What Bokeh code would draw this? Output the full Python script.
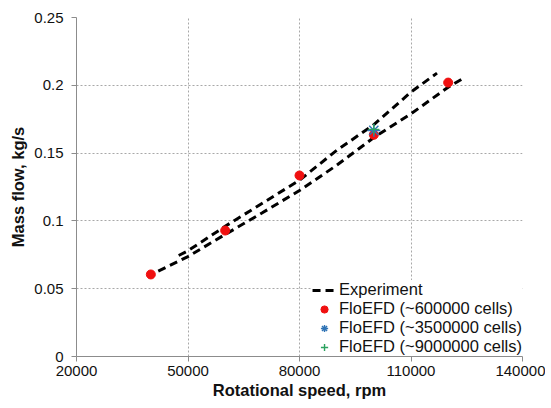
from bokeh.plotting import figure
from bokeh.models import FixedTicker, Range1d
from bokeh.embed import file_html
from bokeh.resources import INLINE

# Experiment (two branches)
exp_lower_rpm = [42000, 50000, 60000, 70000, 80000, 90000, 100000, 110000, 120000, 124000]
exp_lower_flow = [0.063, 0.0737, 0.090, 0.106, 0.1224, 0.141, 0.1615, 0.179, 0.1986, 0.205]
exp_upper_rpm = [47500, 50000, 60000, 70000, 80000, 90000, 100000, 110000, 117000]
exp_upper_flow = [0.0745, 0.078, 0.096, 0.113, 0.130, 0.152, 0.171, 0.195, 0.209]

# FloEFD results
efd600k_rpm = [40000, 60000, 80000, 100000, 120000]
efd600k_flow = [0.0605, 0.0929, 0.1335, 0.1635, 0.202]
efd3500k_rpm = [100000]
efd3500k_flow = [0.1667]
efd9000k_rpm = [100000]
efd9000k_flow = [0.1675]

x_ticks = [20000, 50000, 80000, 110000, 140000]
x_tick_labels = ["20000", "50000", "80000", "110000", "140000"]
y_ticks = [0, 0.05, 0.1, 0.15, 0.2, 0.25]
y_tick_labels = ["0", "0.05", "0.1", "0.15", "0.2", "0.25"]

FONT = "Liberation Sans"

p = figure(frame_width=446, frame_height=339, output_backend="svg", toolbar_location=None,
           x_range=Range1d(20000, 140000), y_range=Range1d(0, 0.25),
           min_border_left=76, min_border_right=23, min_border_top=17, min_border_bottom=44)
p.outline_line_color = None
p.background_fill_color = "white"

for ax, ticks, labels in ((p.xaxis[0], x_ticks, x_tick_labels), (p.yaxis[0], y_ticks, y_tick_labels)):
    ax.ticker = FixedTicker(ticks=ticks)
    ax.major_label_overrides = {t: l for t, l in zip(ticks, labels)}
    ax.minor_tick_line_color = None
    ax.major_tick_in = 0
    ax.major_tick_out = 5
    ax.axis_line_color = "#8c8c8c"
    ax.major_tick_line_color = "#8c8c8c"
    ax.major_label_text_font = FONT
    ax.major_label_text_font_size = "15px"
    ax.major_label_text_color = "#111111"
    ax.axis_label_text_font = FONT
    ax.axis_label_text_font_size = "16.5px"
    ax.axis_label_text_font_style = "bold"
    ax.axis_label_text_color = "#111111"

p.xaxis.axis_label = "Rotational speed, rpm"
p.yaxis.axis_label = "Mass flow, kg/s"
p.xaxis.major_label_standoff = 4
p.xaxis.axis_label_standoff = 2
p.yaxis.major_label_standoff = 8
p.yaxis.axis_label_standoff = 4

for g in (p.xgrid[0], p.ygrid[0]):
    g.grid_line_color = "#a8a8a8"
    g.grid_line_dash = "2 2"
    g.grid_line_width = 1

p.line(exp_lower_rpm, exp_lower_flow, line_color="black", line_width=3, line_dash="8 5",
       legend_label="Experiment")
p.line(exp_upper_rpm, exp_upper_flow, line_color="black", line_width=3, line_dash="8 5")
p.scatter(efd600k_rpm, efd600k_flow, marker="circle", size=9, fill_color="#f01010",
          line_color="#f01010", legend_label="FloEFD (~600000 cells)")
p.scatter(efd3500k_rpm, efd3500k_flow, marker="asterisk", size=13, line_color="#2f73b5",
          line_width=1.4, legend_label="FloEFD (~3500000 cells)")
p.scatter(efd9000k_rpm, efd9000k_flow, marker="cross", size=11, line_color="#2ca25f",
          line_width=1.4, legend_label="FloEFD (~9000000 cells)")

lg = p.legend[0]
lg.location = "bottom_right"
lg.margin = 0
lg.padding = 1
lg.spacing = 0
lg.label_height = 18
lg.glyph_height = 18
lg.glyph_width = 24
lg.label_standoff = 3
lg.label_text_font = FONT
lg.label_text_font_size = "16.5px"
lg.label_text_color = "#111111"
lg.border_line_color = None
lg.background_fill_color = "white"
lg.background_fill_alpha = 1.0

open("out.html", "w").write(file_html(p, INLINE))
